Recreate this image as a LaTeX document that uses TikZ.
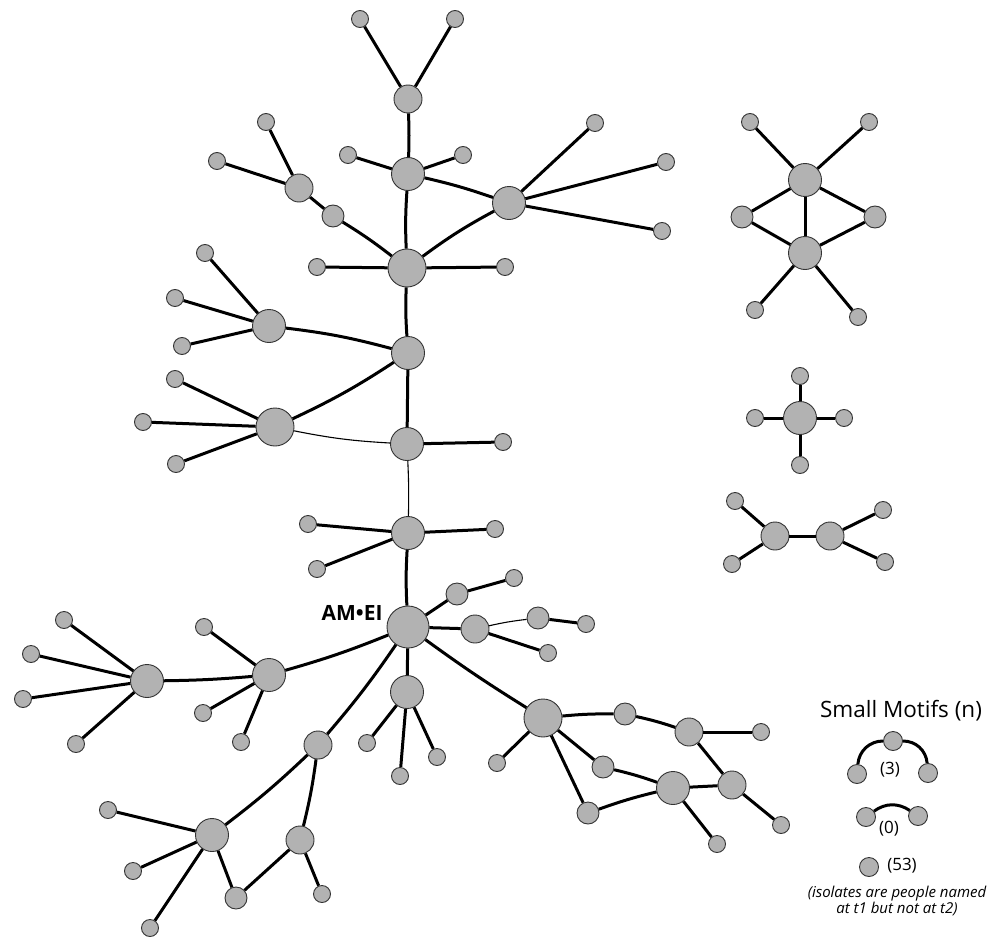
\documentclass[tikz,border=0pt]{standalone}
\usepackage{fontspec}
\setmainfont{Open Sans}

\tikzset{
  dot/.style={circle,draw=black!80,fill=black!30,line width=0.9pt,inner sep=0pt},
  leaf/.style={dot,minimum size=17pt},
  smallnode/.style={dot,minimum size=22pt},
  midnode/.style={dot,minimum size=28pt},
  bignode/.style={dot,minimum size=33pt},
  largenode/.style={dot,minimum size=38pt},
  hubnode/.style={dot,minimum size=42pt},
  motifnode/.style={dot,minimum size=19pt},
  edge/.style={line width=3pt},
  thinedge/.style={line width=1.1pt},
}
% leaves hung on one node: \leaves{node}{x/y,x/y,...}
\newcommand{\leaves}[2]{%
  \foreach \x/\y [count=\i] in {#2}{
    \node[leaf] (#1-\i) at (\x,\y) {};
    \draw[edge] (#1) -- (#1-\i);
  }}

\begin{document}
\begin{tikzpicture}[x=1pt,y=-1pt]
\useasboundingbox (0,0) rectangle (1000,936);

% main component, trunk
\node[midnode] (t1) at (408,99) {};
\node[bignode] (t2) at (408,174) {};
\node[largenode] (t3) at (407,268) {};
\node[bignode] (t4) at (408,353) {};
\node[bignode] (t5) at (407,444) {};
\node[bignode] (t6) at (408,533) {};
\node[hubnode] (am) at (408,627) {};
\node[font=\bfseries\fontsize{21}{25}\selectfont,anchor=east] (amlabel) at (386,613) {AM•EI};

\draw[edge] (t1) to[bend left=2] (t2);
\draw[edge] (t2) to[bend right=3] (t3);
\draw[edge] (t3) to[bend right=3] (t4);
\draw[edge] (t4) -- (t5);
\draw[thinedge] (t5) to[bend left=2] (t6);
\draw[edge] (t6) to[bend right=3] (am);

\leaves{t1}{360/19,455/19}
\leaves{t2}{348/155,463/155}
\leaves{t3}{317/267,505/267}
\leaves{t5}{503/442}
\leaves{t6}{308/524,317/569,495/529}

% upper branches
\node[bignode] (c) at (509,203) {};
\node[midnode] (a) at (299,188) {};
\node[smallnode] (b) at (333,216) {};
\draw[edge] (t2) to[bend left=3] (c);
\draw[edge] (t3) to[bend left=4] (c);
\draw[edge] (a) -- (b);
\draw[edge] (b) to[bend left=3] (t3);
\leaves{c}{595/123,666/162,662/231}
\leaves{a}{266/122,217/161}

\node[bignode] (d) at (269,326) {};
\node[largenode] (e) at (275,427) {};
\draw[edge] (t4) to[bend right=4] (d);
\draw[edge] (e) to[bend right=4] (t4);
\draw[thinedge] (e) to[bend right=4] (t5);
\leaves{d}{205/253,175/298,182/346}
\leaves{e}{175/379,143/422,176/464}

% around the hub
\node[smallnode] (f) at (457,594) {};
\node[midnode] (g) at (475,629) {};
\node[smallnode] (h) at (538,618) {};
\draw[edge] (am) -- (f);
\draw[edge] (am) -- (g);
\draw[thinedge] (g) to[bend left=3] (h);
\leaves{f}{514/578}
\leaves{h}{586/624}
\leaves{g}{548/653}

\node[bignode] (i) at (407,692) {};
\draw[edge] (am) -- (i);
\leaves{i}{367/743,400/776,437/757}

\node[bignode] (n) at (269,675) {};
\node[bignode] (o) at (147,681) {};
\draw[edge] (am) to[bend left=3] (n);
\draw[edge] (n) to[bend left=2] (o);
\leaves{n}{204/627,203/713,241/742}
\leaves{o}{64/620,31/654,23/699,76/744}

\node[midnode] (j) at (318,745) {};
\node[bignode] (k) at (212,835) {};
\node[midnode] (l) at (300,840) {};
\node[smallnode] (m) at (236,898) {};
\draw[edge] (am) to[bend left=3] (j);
\draw[edge] (j) to[bend left=3] (k);
\draw[edge] (j) to[bend left=3] (l);
\draw[edge] (k) -- (m);
\draw[edge] (m) -- (l);
\leaves{k}{108/810,133/871,150/928}
\leaves{l}{322/894}

% lower right branch
\node[largenode] (p) at (543,718) {};
\node[smallnode] (q) at (625,714) {};
\node[midnode] (r) at (689,732) {};
\node[midnode] (s) at (732,785) {};
\node[bignode] (u) at (673,788) {};
\node[smallnode] (v) at (603,767) {};
\node[smallnode] (w) at (588,813) {};
\draw[edge] (am) to[bend right=2] (p);
\draw[edge] (p) to[bend left=3] (q);
\draw[edge] (q) to[bend left=3] (r);
\draw[edge] (r) -- (s);
\draw[edge] (u) -- (s);
\draw[edge] (p) -- (v);
\draw[edge] (p) -- (w);
\draw[edge] (v) to[bend left=3] (u);
\draw[edge] (w) to[bend left=3] (u);
\leaves{p}{497/763}
\leaves{r}{761/732}
\leaves{s}{781/825}
\leaves{u}{717/844}

% separate components
\node[bignode] (x1) at (805,180) {};
\node[bignode] (x2) at (805,253) {};
\node[smallnode] (xl) at (742,217) {};
\node[smallnode] (xr) at (875,217) {};
\draw[edge] (x1) -- (x2);
\draw[edge] (x1) -- (xl);
\draw[edge] (x1) -- (xr);
\draw[edge] (x2) -- (xl);
\draw[edge] (x2) -- (xr);
\leaves{x1}{750/122,869/122}
\leaves{x2}{755/310,858/317}

\node[bignode] (star) at (800,418) {};
\leaves{star}{800/376,755/418,844/418,800/465}

\node[midnode] (y1) at (775,536) {};
\node[midnode] (y2) at (830,536) {};
\draw[edge] (y1) -- (y2);
\leaves{y1}{735/501,732/564}
\leaves{y2}{883/510,885/562}

% legend
\node[font=\fontsize{22.5}{26}\selectfont] (title) at (901,711) {Small Motifs (n)};
\node[motifnode] (m3a) at (857,774) {};
\node[motifnode] (m3b) at (893,741) {};
\node[motifnode] (m3c) at (928,773) {};
\draw[edge] (m3a) to[out=85,in=180] (m3b);
\draw[edge] (m3b) to[out=0,in=95] (m3c);
\node[font=\fontsize{17}{20}\selectfont] (n3) at (890,770) {(3)};
\node[motifnode] (m0a) at (866,817) {};
\node[motifnode] (m0b) at (918,816) {};
\draw[edge] (m0a) to[bend left=35] (m0b);
\node[font=\fontsize{17}{20}\selectfont] (n0) at (889,829) {(0)};
\node[motifnode] (iso) at (869,867) {};
\node[font=\fontsize{17}{20}\selectfont] (n53) at (902,866) {(53)};
\node[font=\itshape\fontsize{15}{16.5}\selectfont,align=center] (note) at (897,901)
  {(isolates are people named\\at t1 but not at t2)};
\end{tikzpicture}
\end{document}
